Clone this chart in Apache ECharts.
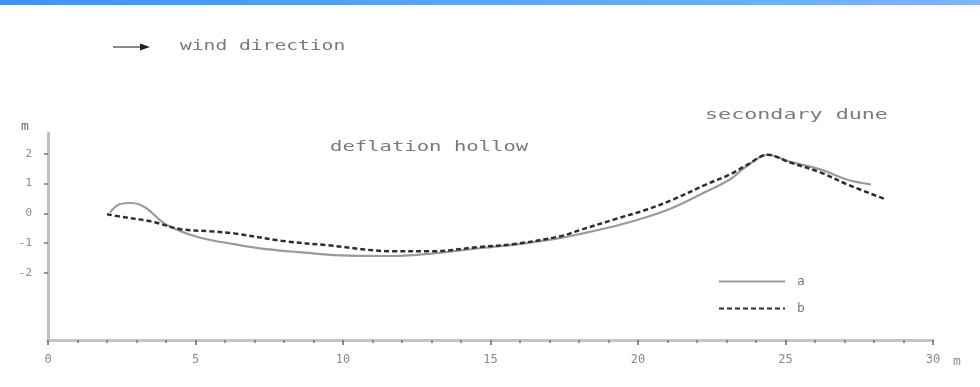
<!DOCTYPE html>
<html>
<head>
<meta charset="utf-8">
<script src="https://cdn.jsdelivr.net/npm/echarts@6/dist/echarts.min.js"></script>
<style>
html,body{margin:0;padding:0;background:#fff;}
#chart{width:980px;height:387px;}
</style>
</head>
<body>
<div id="chart"></div>
<script>
// Profile a (solid)
var xA = [2.1, 2.4, 2.8, 3.1, 3.4, 4.0, 5.1, 6.3, 7.4, 8.5, 10.2, 11.7, 13.0, 14.6, 15.8, 17.4, 18.0, 19.2, 20.3, 21.2, 22.3, 23.1, 23.7, 24.4, 25.1, 26.2, 27.1, 27.9];
var yA = [0.03, 0.3, 0.35, 0.3, 0.13, -0.37, -0.8, -1.03, -1.2, -1.3, -1.42, -1.43, -1.35, -1.17, -1.05, -0.82, -0.7, -0.43, -0.12, 0.2, 0.73, 1.13, 1.6, 1.97, 1.75, 1.47, 1.13, 0.97];
// Profile b (dashed)
var xB = [2.0, 2.6, 3.5, 4.5, 5.5, 6.3, 8.0, 9.5, 11.7, 13.0, 14.6, 15.8, 17.4, 18.0, 19.2, 20.3, 21.2, 22.3, 23.1, 23.7, 24.4, 25.1, 26.2, 27.1, 28.4];
var yB = [-0.03, -0.13, -0.27, -0.53, -0.6, -0.67, -0.93, -1.07, -1.27, -1.27, -1.13, -1.03, -0.76, -0.57, -0.2, 0.13, 0.47, 0.97, 1.3, 1.63, 1.97, 1.73, 1.37, 0.97, 0.47];
var seriesNames = ['a', 'b'];
var xTickLabels = [0, 5, 10, 15, 20, 25, 30];
var yTickLabels = [2, 1, 0, -1, -2];
var annotations = ['wind direction', 'deflation hollow', 'secondary dune'];
var unitLabel = 'm';

function pairs(xs, ys) { return xs.map(function (x, i) { return [x, ys[i]]; }); }

var chart = echarts.init(document.getElementById('chart'));
var txtColor = '#7a7a7a';
var mono = '"DejaVu Sans Mono", monospace';
chart.setOption({
  animation: false,
  backgroundColor: '#fff',
  grid: { left: 48, right: 47, top: 133, bottom: 47 },
  xAxis: {
    type: 'value', min: 0, max: 30, interval: 5,
    axisLine: { onZero: false, lineStyle: { color: '#c4c4c4', width: 3 } },
    axisTick: { show: true, length: 5, lineStyle: { color: '#666', width: 1.5 } },
    minorTick: { show: true, splitNumber: 5, length: 3, lineStyle: { color: '#777', width: 1.5 } },
    axisLabel: { customValues: xTickLabels, margin: 14, color: '#8a8a8a', fontSize: 12, fontFamily: mono },
    splitLine: { show: false }
  },
  yAxis: {
    type: 'value', min: -4.25, max: 2.7,
    axisLine: { onZero: false, lineStyle: { color: '#c0c0c0', width: 3 } },
    axisTick: { customValues: yTickLabels, length: 4, lineStyle: { color: '#777', width: 1.5 } },
    axisLabel: { customValues: yTickLabels, margin: 16, color: '#8a8a8a', fontSize: 11, fontFamily: mono },
    splitLine: { show: false }
  },
  legend: {
    data: seriesNames, orient: 'vertical', left: 713, top: 270,
    itemWidth: 66, itemHeight: 14, itemGap: 14,
    itemStyle: { opacity: 0 },
    textStyle: { color: txtColor, fontSize: 13, fontFamily: mono, padding: [0, 0, 0, 7] }
  },
  series: [
    { name: seriesNames[0], type: 'line', data: pairs(xA, yA), smooth: 0.35, symbol: 'none',
      lineStyle: { color: '#9a9a9a', width: 2.2 }, itemStyle: { color: '#9a9a9a' } },
    { name: seriesNames[1], type: 'line', data: pairs(xB, yB), smooth: 0.35, symbol: 'none',
      lineStyle: { color: '#2e2e2e', width: 2.5, type: [5, 3] }, itemStyle: { color: '#2e2e2e' } }
  ],
  graphic: [
    { type: 'rect', left: 0, top: 0, shape: { width: 980, height: 5 },
      style: { fill: new echarts.graphic.LinearGradient(0, 0, 1, 0, [{ offset: 0, color: '#3f93f6' }, { offset: 1, color: '#7fb4f8' }]) } },
    { type: 'line', shape: { x1: 113, y1: 47, x2: 143, y2: 47 }, style: { stroke: '#8a8a8a', lineWidth: 2 } },
    { type: 'polygon', shape: { points: [[140, 43.5], [150, 47], [140, 50.5]] }, style: { fill: '#222' } },
    { type: 'text', x: 180, y: 46, scaleX: 1.4,
      style: { text: annotations[0], fill: txtColor, fontSize: 14, fontFamily: mono, verticalAlign: 'middle', align: 'left' } },
    { type: 'text', x: 330, y: 147, scaleX: 1.47,
      style: { text: annotations[1], fill: txtColor, fontSize: 14, fontFamily: mono, verticalAlign: 'middle', align: 'left' } },
    { type: 'text', x: 705, y: 115, scaleX: 1.55,
      style: { text: annotations[2], fill: txtColor, fontSize: 14, fontFamily: mono, verticalAlign: 'middle', align: 'left' } },
    { type: 'text', x: 25, y: 127,
      style: { text: unitLabel, fill: '#666', fontSize: 13, fontFamily: mono, verticalAlign: 'middle', align: 'center' } },
    { type: 'text', x: 957, y: 362,
      style: { text: unitLabel, fill: '#8a8a8a', fontSize: 13, fontFamily: mono, verticalAlign: 'middle', align: 'center' } }
  ]
});
</script>
</body>
</html>
